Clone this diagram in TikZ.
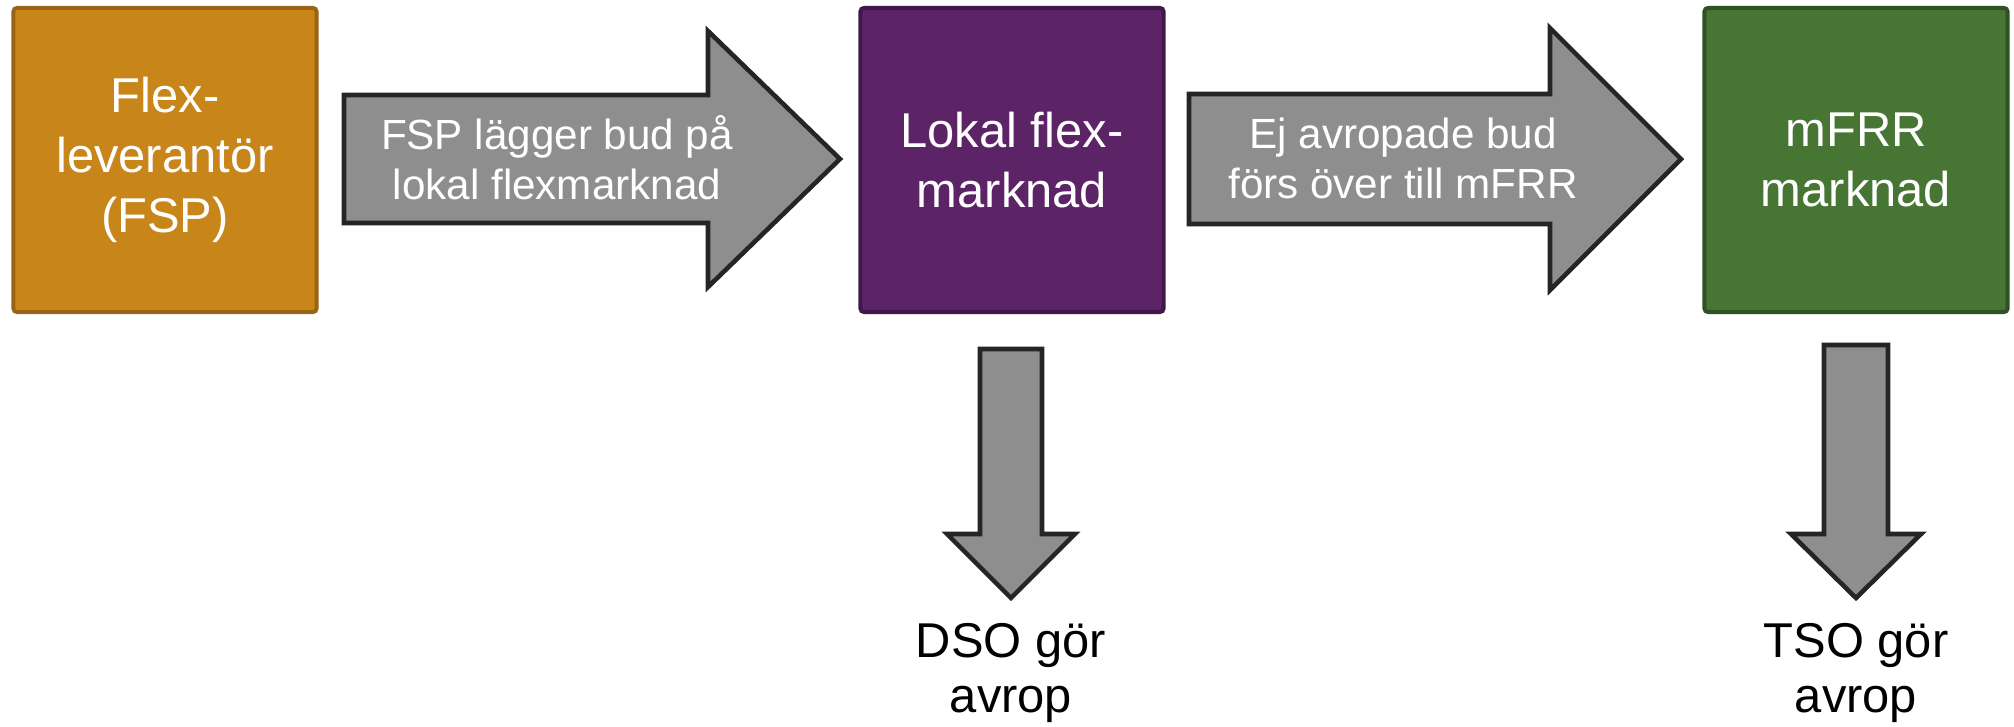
\documentclass[tikz,border=0pt]{standalone}
\usepackage{fontspec}
\setmainfont{Liberation Sans}
\usepackage{tikz}
\usetikzlibrary{positioning}

\definecolor{flexfill}{HTML}{C8861A}
\definecolor{flexline}{HTML}{9A6416}
\definecolor{lokalfill}{HTML}{5C2467}
\definecolor{lokalline}{HTML}{41184A}
\definecolor{mfrrfill}{HTML}{477533}
\definecolor{mfrrline}{HTML}{2E5222}
\definecolor{blkfill}{HTML}{8E8E8E}
\definecolor{blkline}{HTML}{252525}

\begin{document}
\begin{tikzpicture}[x=0.01cm,y=0.01cm,
    market/.style={draw, line width=1.1pt, rounded corners=1pt,
      minimum width=3.03cm, minimum height=3.04cm, text=white, align=center,
      font=\fontsize{13.9}{17}\selectfont},
    blk/.style={draw=blkline, fill=blkfill, line width=1.3pt, line join=miter},
    blktext/.style={text=white, align=center, inner sep=0pt,
      font=\fontsize{12}{14.2}\selectfont},
    result/.style={align=center, inner sep=0pt,
      font=\fontsize{13.9}{15.6}\selectfont}]
      \useasboundingbox (0,0) rectangle (2014,726);

      \node[market, fill=flexfill, draw=flexline] (flex) at (165,566) {Flex-\\leverantör\\(FSP)};
      \node[market, fill=lokalfill, draw=lokalline] (lokal) at (1012,566) {Lokal flex-\\marknad};
      \node[market, fill=mfrrfill, draw=mfrrline] (mfrr) at (1856,566) {mFRR\\marknad};

      \coordinate (a1) at (344,567);
      \coordinate (a2) at (1189,567);
      \coordinate (d1) at (1011,377);
      \coordinate (d2) at (1856,381);

      \draw[blk, shift={(a1)}] (0,64) -- (364,64) -- (364,128) -- (496,0) -- (364,-128) -- (364,-64) -- (0,-64) -- cycle;
      \draw[blk, shift={(a2)}] (0,65) -- (361,65) -- (361,131) -- (492,0) -- (361,-131) -- (361,-65) -- (0,-65) -- cycle;

      \draw[blk, shift={(d1)}] (-31,0) -- (31,0) -- (31,-185) -- (64,-185) -- (0,-249) -- (-64,-185) -- (-31,-185) -- cycle;
      \draw[blk, shift={(d2)}] (-32,0) -- (32,0) -- (32,-189) -- (65,-189) -- (0,-253) -- (-65,-189) -- (-32,-189) -- cycle;

      \node[blktext] (bud) at (557,568) {FSP lägger bud på\\lokal flexmarknad};
      \node[blktext] (over) at (1403,568) {Ej avropade bud\\förs över till mFRR};

      \node[result] (dso) at (1011,53) {DSO gör\\avrop};
      \node[result] (tso) at (1856,53) {TSO gör\\avrop};
\end{tikzpicture}
\end{document}
